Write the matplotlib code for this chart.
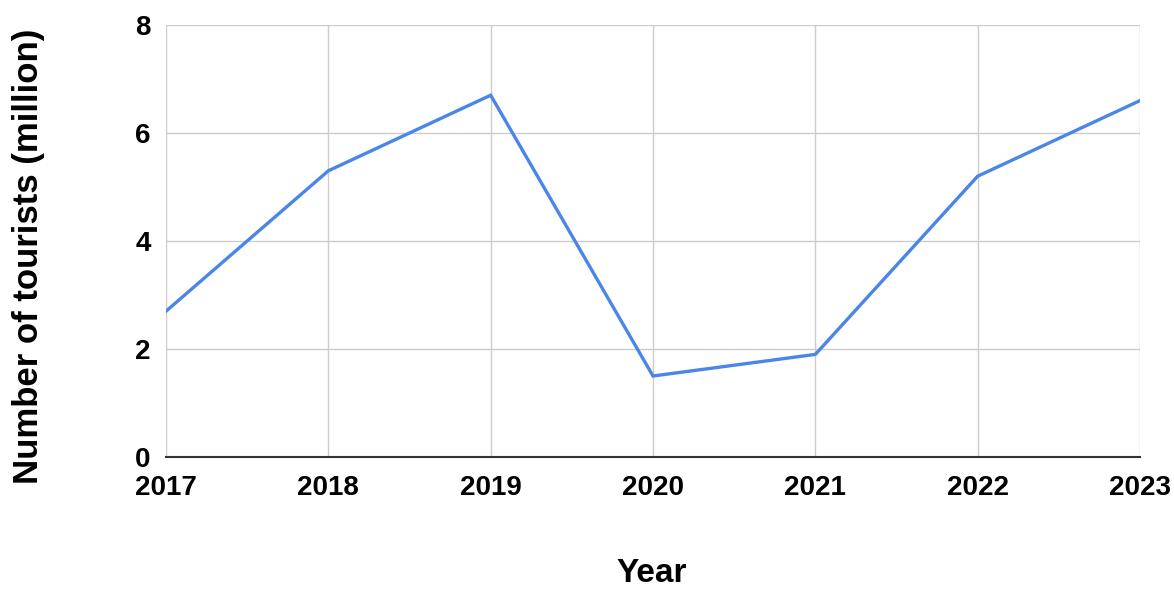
import matplotlib
matplotlib.use("Agg")
import matplotlib.pyplot as plt

years = ["2017", "2018", "2019", "2020", "2021", "2022", "2023"]
tourists = [2.7, 5.3, 6.7, 1.5, 1.9, 5.2, 6.6]
yticks = [0, 2, 4, 6, 8]

plt.rcParams['font.family'] = ['Liberation Sans', 'DejaVu Sans']

fig = plt.figure(figsize=(11.74, 5.91), dpi=100)
ax = fig.add_axes([166/1174, 1-457/591, (1140-166)/1174, (457-25)/591])

x = list(range(len(years)))
ax.plot(x, tourists, color="#4a86e8", linewidth=2.4, solid_joinstyle="miter")

ax.set_xlim(0, len(years)-1)
ax.set_ylim(0, 8)
ax.set_xticks(x)
ax.set_xticklabels(years)
ax.set_yticks(yticks)
ax.set_yticklabels([str(v) for v in yticks])

for s in ["top", "right", "left"]:
    ax.spines[s].set_visible(False)
ax.spines["bottom"].set_color("#333333")
ax.spines["bottom"].set_linewidth(1.5)
ax.spines["bottom"].set_zorder(3)

ax.grid(True, color="#cccccc", linewidth=1.0)
ax.set_axisbelow(True)
ax.tick_params(axis="both", length=0, labelsize=20)
ax.tick_params(axis="x", pad=13)
ax.tick_params(axis="y", pad=11)
for lbl in ax.get_xticklabels() + ax.get_yticklabels():
    lbl.set_fontweight("bold")

fig.text(652/1174, 1-573/591, "Year", fontsize=24, fontweight="bold",
         ha="center", va="center")
fig.text(29/1174, 1-256/591, "Number of tourists (million)", fontsize=25,
         fontweight="bold", ha="center", va="center", rotation=90)

fig.savefig("out.png", dpi=100, facecolor="white")
